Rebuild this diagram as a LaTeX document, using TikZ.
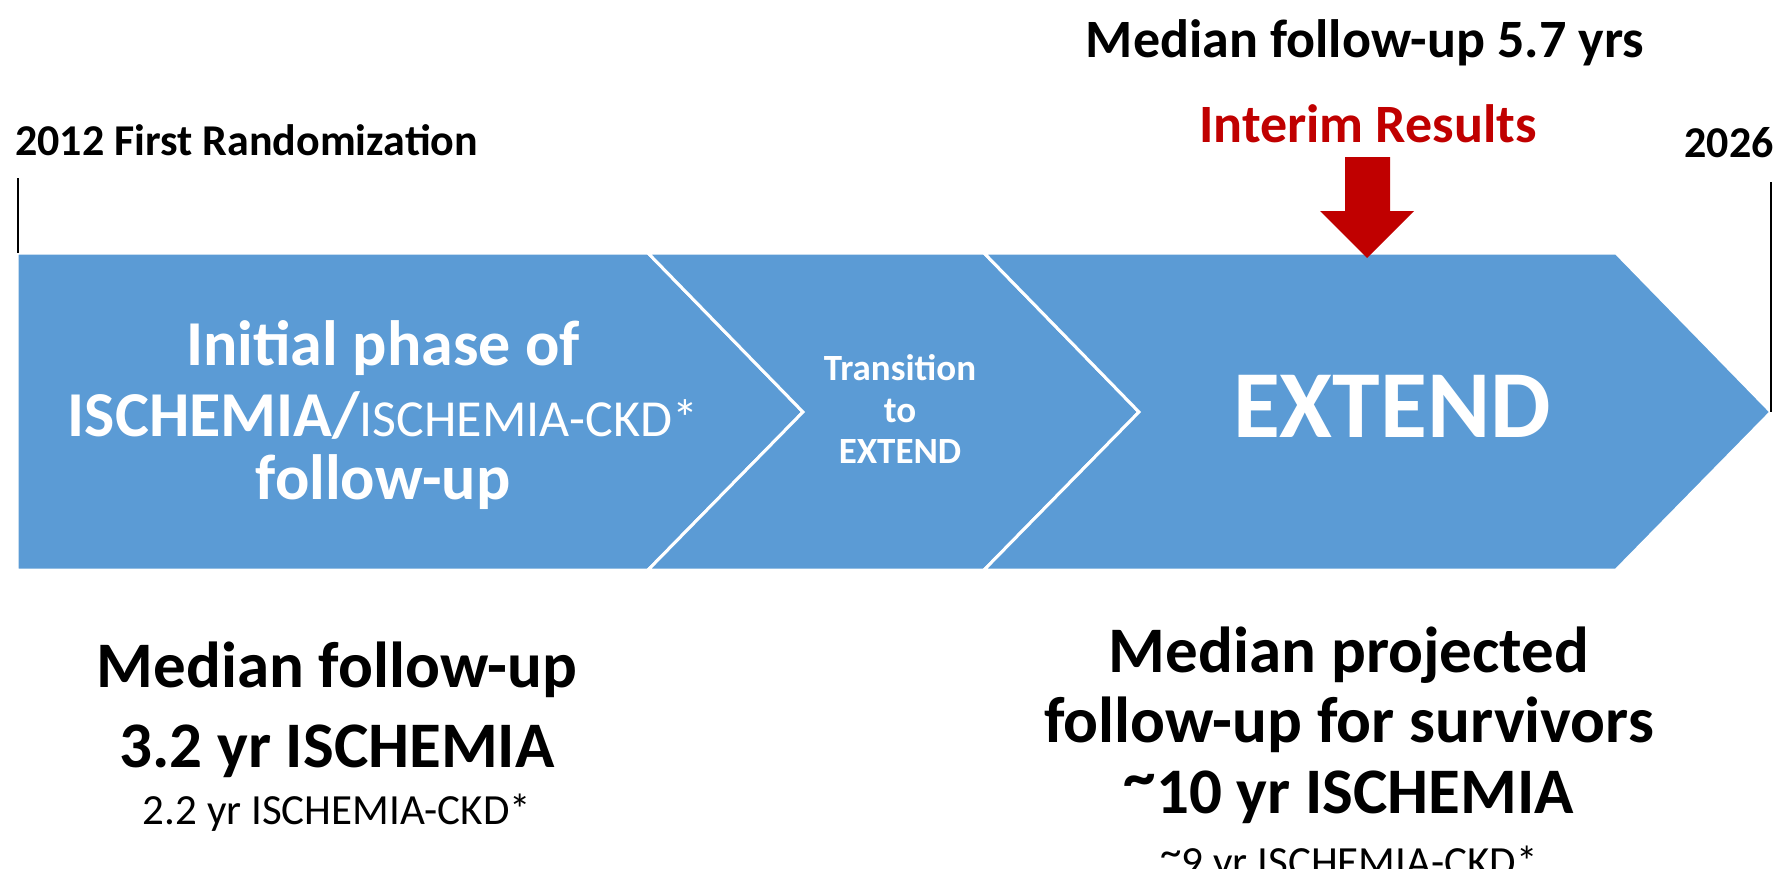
\documentclass[tikz,border=0pt]{standalone}
\usepackage{fontspec}
\setmainfont{Carlito}
\definecolor{chev}{RGB}{91,155,213}
\definecolor{darkred}{RGB}{192,0,0}
\newcommand{\hitilde}{\raisebox{0.22em}{\textasciitilde}}
\begin{document}
\begin{tikzpicture}[x=1pt,y=-1pt,
  lbl/.style={anchor=base, inner sep=0pt, font=\bfseries},
  sz/.style={font=\bfseries\fontsize{#1}{#1}\selectfont},
  rg/.style={font=\fontsize{#1}{#1}\selectfont},
  chevron/.style={fill=chev, draw=white, line width=3pt, line join=miter},
  tickline/.style={line width=2.6pt, black},
  redarrow/.style={fill=darkred, draw=none}]
\useasboundingbox (0,0) rectangle (1790,868);

% chevrons
\path[chevron] (17,253) -- (648,253) -- (803,412) -- (648,570) -- (17,570) -- cycle;
\path[chevron] (648,253) -- (984,253) -- (1139,412) -- (984,570) -- (648,570) -- (803,412) -- cycle;
\path[chevron] (984,253) -- (1616,253) -- (1771,412) -- (1616,570) -- (984,570) -- (1139,412) -- cycle;

% timeline ticks
\coordinate (ltop) at (18,178);
\coordinate (lbot) at (18,253);
\coordinate (rtop) at (1771,182);
\coordinate (rbot) at (1771,412);
\draw[tickline] (ltop) -- (lbot);
\draw[tickline] (rtop) -- (rbot);

% top labels
\node[lbl, sz=44, anchor=base west] (start) at (15,155) {2012 First Randomization};
\node[lbl, sz=44, anchor=base east] (end) at (1774,157) {2026};
\node[lbl, sz=54] (med57) at (1365,57) {Median follow-up 5.7 yrs};
\node[lbl, sz=54, text=darkred] (interim) at (1368,142) {Interim Results};

% red block arrow
\path[redarrow] (1345,157) -- (1390,157) -- (1390,211) -- (1414,211) -- (1367,258)
  -- (1320,211) -- (1345,211) -- cycle;

% chevron 1 text
\node[lbl, sz=64, text=white] (c1a) at (383,365) {Initial phase of};
\node[lbl, sz=64, text=white] (c1b) at (383,436) {ISCHEMIA/{\mdseries\fontsize{52}{52}\selectfont ISCHEMIA-CKD*}};
\node[lbl, sz=64, text=white] (c1c) at (383,499) {follow-up};

% chevron 2 text
\node[lbl, sz=37, text=white] (c2a) at (900,380) {Transition};
\node[lbl, sz=37, text=white] (c2b) at (900,422) {to};
\node[lbl, sz=37, text=white] (c2c) at (900,463) {EXTEND};

% chevron 3 text
\node[lbl, sz=96, text=white] (c3) at (1392,437) {EXTEND};

% bottom left
\node[lbl, sz=65] (bl1) at (337,687) {Median follow-up};
\node[lbl, sz=65] (bl2) at (337,767) {3.2 yr ISCHEMIA};
\node[lbl, rg=43] (bl3) at (337,824) {2.2 yr ISCHEMIA-CKD*};

% bottom right
\node[lbl, sz=65] (br1) at (1349,672) {Median projected};
\node[lbl, sz=65] (br2) at (1349,742) {follow-up for survivors};
\node[lbl, sz=65] (br3) at (1349,813) {\hitilde10 yr ISCHEMIA};
\node[lbl, rg=43] (br4) at (1349,876) {\hitilde9 yr ISCHEMIA-CKD*};
\end{tikzpicture}
\end{document}
